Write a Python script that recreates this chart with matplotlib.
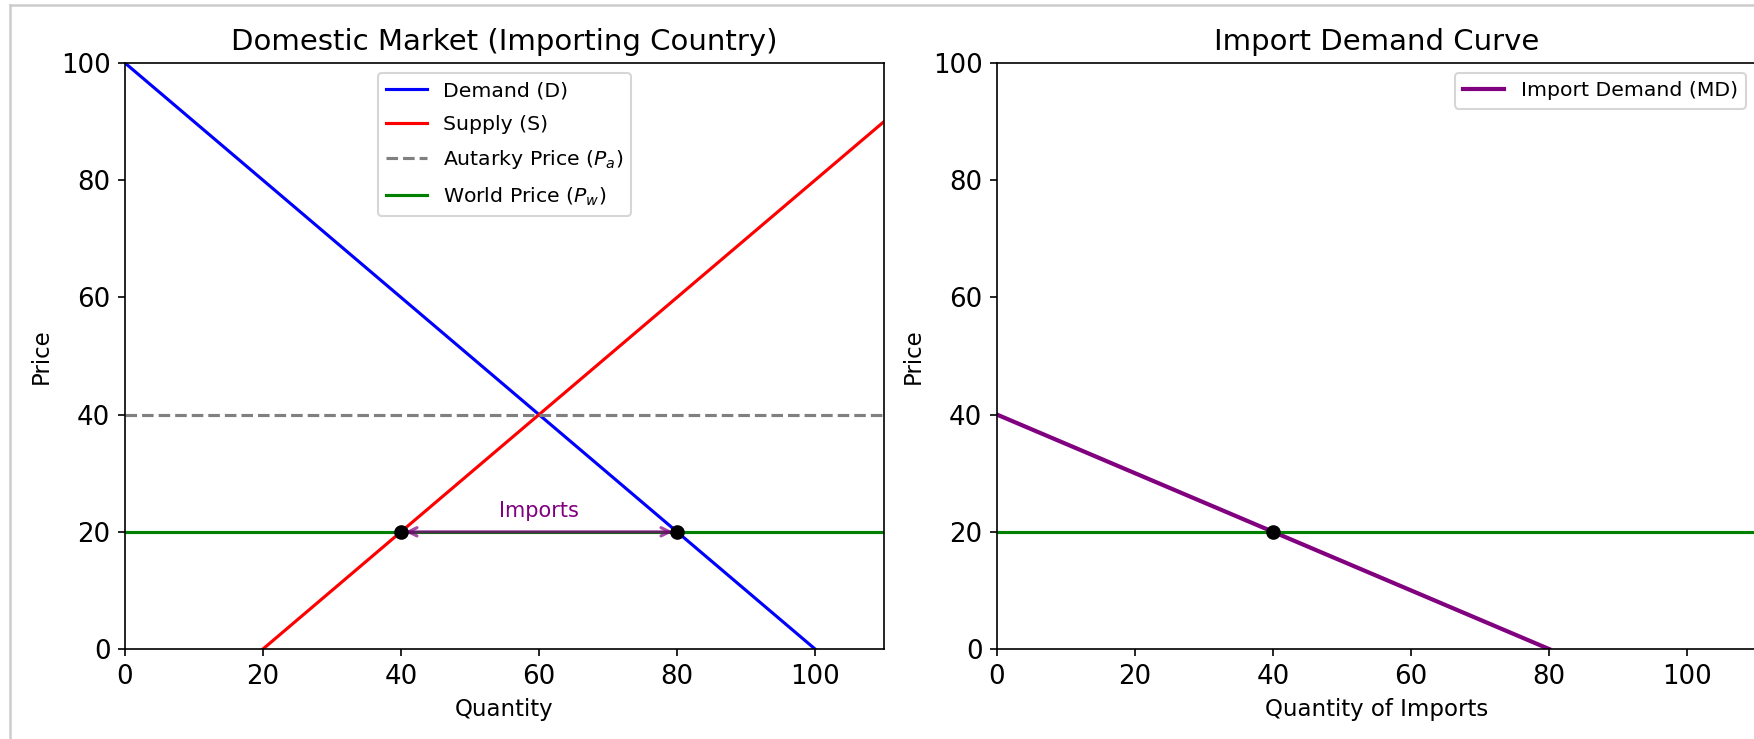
import matplotlib
matplotlib.use('Agg')
import matplotlib.pyplot as plt
from matplotlib.lines import Line2D

# Mercado doméstico (país importador)
demand_q = [0, 100]
demand_p = [100, 0]
supply_q = [20, 110]
supply_p = [0, 90]
autarky_price = 40
world_price = 20
qs_world = 40   # oferta doméstica al precio mundial
qd_world = 80   # demanda doméstica al precio mundial

# Curva de demanda de importaciones
md_q = [0, 80]
md_p = [40, 0]
imports_world = 40

W, H = 1754, 739
fig = plt.figure(figsize=(W / 150, H / 150), dpi=150)

ax1 = fig.add_axes([125 / W, 1 - 649 / H, 759 / W, 586 / H])
ax2 = fig.add_axes([997 / W, 1 - 649 / H, 759 / W, 586 / H])

# Panel izquierdo
ax1.plot(demand_q, demand_p, color='blue', lw=1.5, label='Demand (D)')
ax1.plot(supply_q, supply_p, color='red', lw=1.5, label='Supply (S)')
ax1.axhline(autarky_price, color='gray', ls='--', lw=1.5, label='Autarky Price ($P_a$)')
ax1.axhline(world_price, color='green', lw=1.5, label='World Price ($P_w$)')
ax1.plot([qs_world, qd_world], [world_price, world_price], 'o', color='black',
         markersize=6, zorder=5)
ax1.annotate('', xy=(qs_world, world_price), xytext=(qd_world, world_price),
             arrowprops=dict(arrowstyle='<->', color='purple', lw=1.5, alpha=0.7))
ax1.text((qs_world + qd_world) / 2, world_price + 1.8, 'Imports', color='purple',
         ha='center', va='bottom', fontsize=10)
ax1.set_xlim(0, 110)
ax1.set_ylim(0, 100)
ax1.set_title('Domestic Market (Importing Country)', fontsize=14)
ax1.set_xlabel('Quantity', fontsize=11)
ax1.set_ylabel('Price', fontsize=11)
ax1.tick_params(labelsize=12.5)
ax1.legend(loc='upper center', fontsize=9.8, labelspacing=0.7)

# Panel derecho
ax2.plot(md_q, md_p, color='purple', lw=2, label='Import Demand (MD)')
ax2.axhline(world_price, color='green', lw=1.5)
ax2.plot([imports_world], [world_price], 'o', color='black', markersize=6, zorder=5)
ax2.set_xlim(0, 110)
ax2.set_ylim(0, 100)
ax2.set_title('Import Demand Curve', fontsize=14)
ax2.set_xlabel('Quantity of Imports', fontsize=11)
ax2.set_ylabel('Price', fontsize=11)
ax2.tick_params(labelsize=12.5)
ax2.legend(loc='upper right', fontsize=9.8)

# Marco gris de la captura
fig.add_artist(Line2D([10 / W, 10 / W], [0, 1 - 5 / H], color='#cccccc', lw=1.2,
                      transform=fig.transFigure))
fig.add_artist(Line2D([10 / W, 1], [1 - 5 / H, 1 - 5 / H], color='#cccccc', lw=1.2,
                      transform=fig.transFigure))

fig.savefig('out.png', dpi=150)
